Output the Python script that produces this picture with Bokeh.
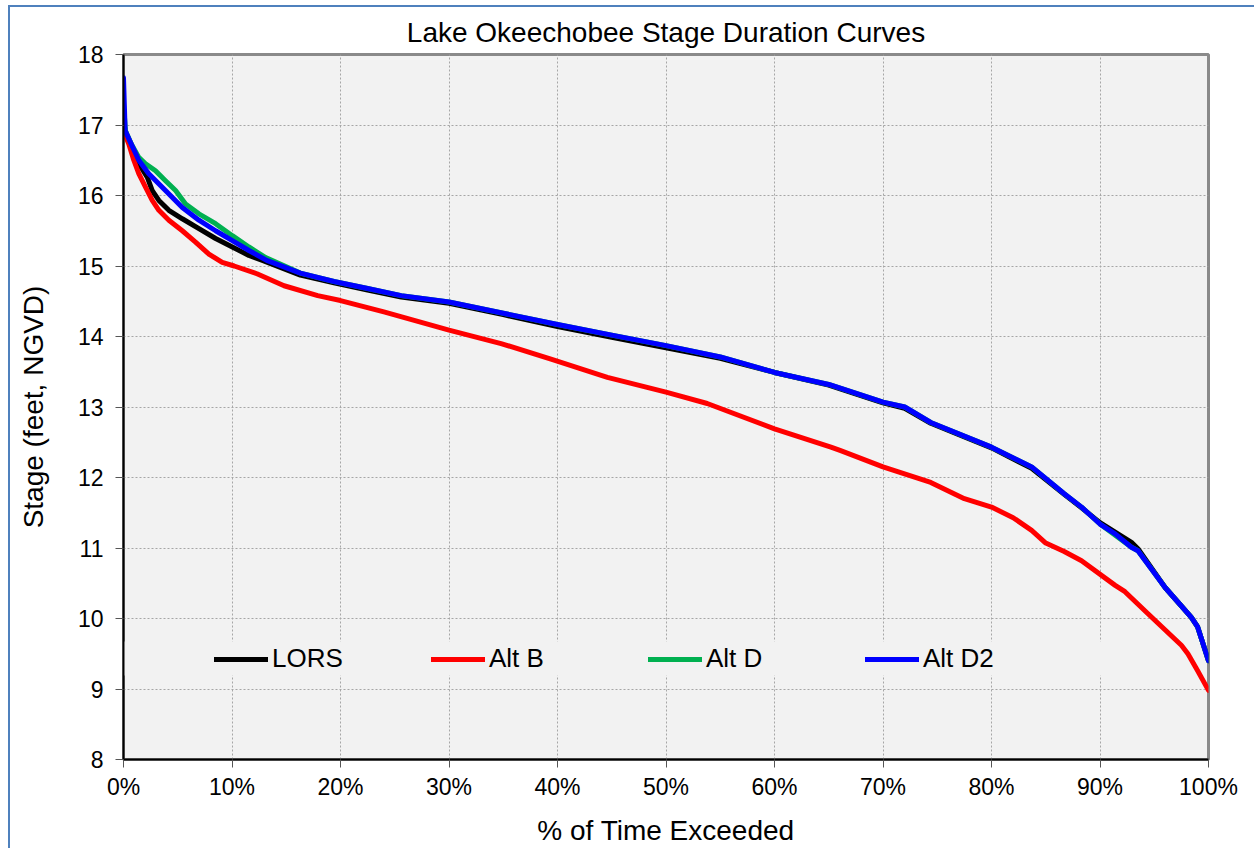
from bokeh.plotting import figure
from bokeh.models import (Legend, LegendItem, FixedTicker, PrintfTickFormatter,
                          BoxAnnotation, Range1d)
from bokeh.embed import file_html
from bokeh.resources import INLINE

# ---------------- data ----------------
lors_x = [0.0, 0.18, 0.8, 1.41, 2.19, 2.65, 3.26, 4.18, 5.42, 6.95, 8.49, 10.03, 11.56,
          12.8, 16.3, 19.4, 22.5, 25.6, 30.0, 35.0, 40.0, 45.0, 50.0, 55.0, 60.0, 65.0,
          70.0, 72.0, 74.4, 80.0, 83.7, 86.7, 88.3, 90.0, 92.9, 93.5, 96.0, 98.4, 99.0, 100.0]
lors_y = [17.05, 16.90, 16.69, 16.45, 16.26, 16.07, 15.93, 15.79, 15.67, 15.53, 15.39, 15.27,
          15.15, 15.08, 14.87, 14.76, 14.66, 14.56, 14.47, 14.31, 14.14, 13.99, 13.84, 13.69,
          13.49, 13.31, 13.06, 12.98, 12.77, 12.42, 12.13, 11.76, 11.57, 11.36, 11.08, 10.99,
          10.44, 10.02, 9.88, 9.40]

altb_x = [0.0, 0.03, 0.49, 0.95, 1.41, 2.03, 2.65, 3.26, 4.18, 5.42, 6.64, 7.87, 9.1, 10.2,
          12.3, 14.8, 17.9, 20.0, 24.0, 30.0, 34.8, 39.4, 44.6, 50.0, 53.8, 60.0, 65.2, 66.1,
          70.0, 74.4, 77.5, 80.0, 82.0, 83.7, 85.0, 86.7, 88.3, 91.4, 92.3, 94.4, 97.5, 98.1,
          99.0, 100.0]
altb_y = [16.95, 16.90, 16.73, 16.50, 16.31, 16.12, 15.93, 15.79, 15.65, 15.50, 15.34, 15.17,
          15.05, 15.00, 14.89, 14.72, 14.58, 14.51, 14.35, 14.09, 13.90, 13.68, 13.42, 13.21,
          13.05, 12.69, 12.43, 12.38, 12.15, 11.93, 11.70, 11.58, 11.43, 11.25, 11.07, 10.95,
          10.82, 10.47, 10.38, 10.07, 9.62, 9.50, 9.26, 8.98]

altd_x = [0.0, 0.18, 0.72, 1.41, 2.03, 2.95, 3.87, 4.8, 5.72, 6.95, 8.49, 10.03, 11.56, 13.1,
          16.3, 19.4, 22.5, 25.6, 30.0, 35.0, 40.0, 45.0, 50.0, 55.0, 60.0, 65.0, 70.0, 72.0,
          74.4, 80.0, 83.7, 86.7, 88.3, 90.0, 92.9, 93.5, 96.0, 98.4, 99.0, 100.0]
altd_y = [17.30, 16.92, 16.73, 16.54, 16.45, 16.35, 16.21, 16.07, 15.88, 15.74, 15.60, 15.43,
          15.27, 15.12, 14.90, 14.78, 14.68, 14.58, 14.49, 14.33, 14.17, 14.02, 13.87, 13.71,
          13.49, 13.32, 13.07, 13.00, 12.78, 12.43, 12.15, 11.77, 11.58, 11.34, 11.01, 10.96,
          10.44, 10.02, 9.88, 9.40]

altd2_x = [0.0, 0.15, 0.65, 1.41, 2.33, 3.87, 5.42, 6.95, 8.49, 10.03, 11.56, 13.2, 16.3,
           19.4, 22.5, 25.6, 30.0, 35.0, 40.0, 45.0, 50.0, 55.0, 60.0, 65.0, 70.0, 72.0, 74.4,
           80.0, 83.7, 86.7, 88.3, 90.0, 91.4, 92.9, 93.5, 96.0, 98.4, 99.0, 100.0]
altd2_y = [17.67, 16.92, 16.75, 16.50, 16.31, 16.07, 15.83, 15.65, 15.50, 15.36, 15.22, 15.08,
           14.90, 14.78, 14.68, 14.58, 14.49, 14.33, 14.17, 14.02, 13.87, 13.71, 13.49, 13.32,
           13.07, 13.00, 12.78, 12.43, 12.15, 11.77, 11.58, 11.34, 11.20, 11.01, 10.96, 10.44,
           10.02, 9.88, 9.40]

series_names = ["LORS", "Alt B", "Alt D", "Alt D2"]
series_colors = ["#000000", "#ff0000", "#00b050", "#0000ff"]
x_ticks = [0, 10, 20, 30, 40, 50, 60, 70, 80, 90, 100]
y_ticks = [8, 9, 10, 11, 12, 13, 14, 15, 16, 17, 18]

FONT = "Liberation Sans"

p = figure(width=1254, height=848, output_backend="svg", toolbar_location=None,
           x_range=Range1d(0, 100), y_range=Range1d(8, 18),
           title="Lake Okeechobee Stage Duration Curves",
           min_border_left=123, min_border_right=46, min_border_top=54, min_border_bottom=89)

border_c = "#4f81bd"
p.styles = {
    "background": (f"linear-gradient({border_c},{border_c}) 8px 5px / 2px 100% no-repeat, "
                   f"linear-gradient({border_c},{border_c}) 8px 5px / 100% 2px no-repeat")
}
p.border_fill_color = None
p.background_fill_color = "#f2f2f2"
p.outline_line_color = "#8a8a8a"
p.outline_line_width = 3

p.title.text_font = FONT
p.title.text_font_size = "28px"
p.title.text_font_style = "normal"
p.title.align = "center"
p.title.text_color = "#000000"
p.title.offset = 0
p.title.standoff = 14

for ax in (p.xaxis[0], p.yaxis[0]):
    ax.axis_line_color = "#000000"
    ax.axis_line_width = 2
    ax.major_tick_line_color = "#555555"
    ax.major_tick_line_width = 1
    ax.major_tick_in = 0
    ax.major_tick_out = 8
    ax.minor_tick_line_color = None
    ax.major_label_text_font = FONT
    ax.major_label_text_font_size = "23px"
    ax.major_label_text_color = "#000000"
    ax.axis_label_text_font = FONT
    ax.axis_label_text_font_size = "28px"
    ax.axis_label_text_font_style = "normal"
    ax.axis_label_text_color = "#000000"

p.xaxis.ticker = FixedTicker(ticks=x_ticks)
p.yaxis.ticker = FixedTicker(ticks=y_ticks)
p.xaxis.formatter = PrintfTickFormatter(format="%d%%")
p.xaxis.axis_label = "% of Time Exceeded"
p.yaxis.axis_label = "Stage (feet, NGVD)"
p.xaxis.major_label_standoff = 6
p.yaxis.major_label_standoff = 12
p.xaxis.axis_label_standoff = 12
p.yaxis.axis_label_standoff = 26

p.xgrid.grid_line_color = "#a6a6a6"
p.ygrid.grid_line_color = "#a6a6a6"
p.xgrid.grid_line_dash = "2 2"
p.ygrid.grid_line_dash = "2 2"
p.xgrid.grid_line_width = 1
p.ygrid.grid_line_width = 1

xs = [lors_x, altb_x, altd_x, altd2_x]
ys = [lors_y, altb_y, altd_y, altd2_y]
renderers = []
for x, y, c in zip(xs, ys, series_colors):
    r = p.line(x, y, line_color=c, line_width=5, line_join="round", line_cap="round")
    renderers.append(r)

# legend background strip (covers grid, like the reference)
legend_bg = BoxAnnotation(left=-1.1, right=96.1, bottom=9.19, top=9.674,
                          fill_color="#f2f2f2", fill_alpha=1.0, line_color=None,
                          level="glyph")
p.add_layout(legend_bg)

legend = Legend(items=[LegendItem(label=n, renderers=[r]) for n, r in zip(series_names, renderers)],
                orientation="horizontal", location=(91, 85),
                background_fill_alpha=0, border_line_color=None,
                label_text_font=FONT, label_text_font_size="26px", label_text_color="#000000",
                glyph_width=54, glyph_height=20, label_standoff=4, label_width=159,
                label_height=20, spacing=0, padding=0, margin=0)
p.add_layout(legend)

open("out.html", "w").write(file_html(p, INLINE))
